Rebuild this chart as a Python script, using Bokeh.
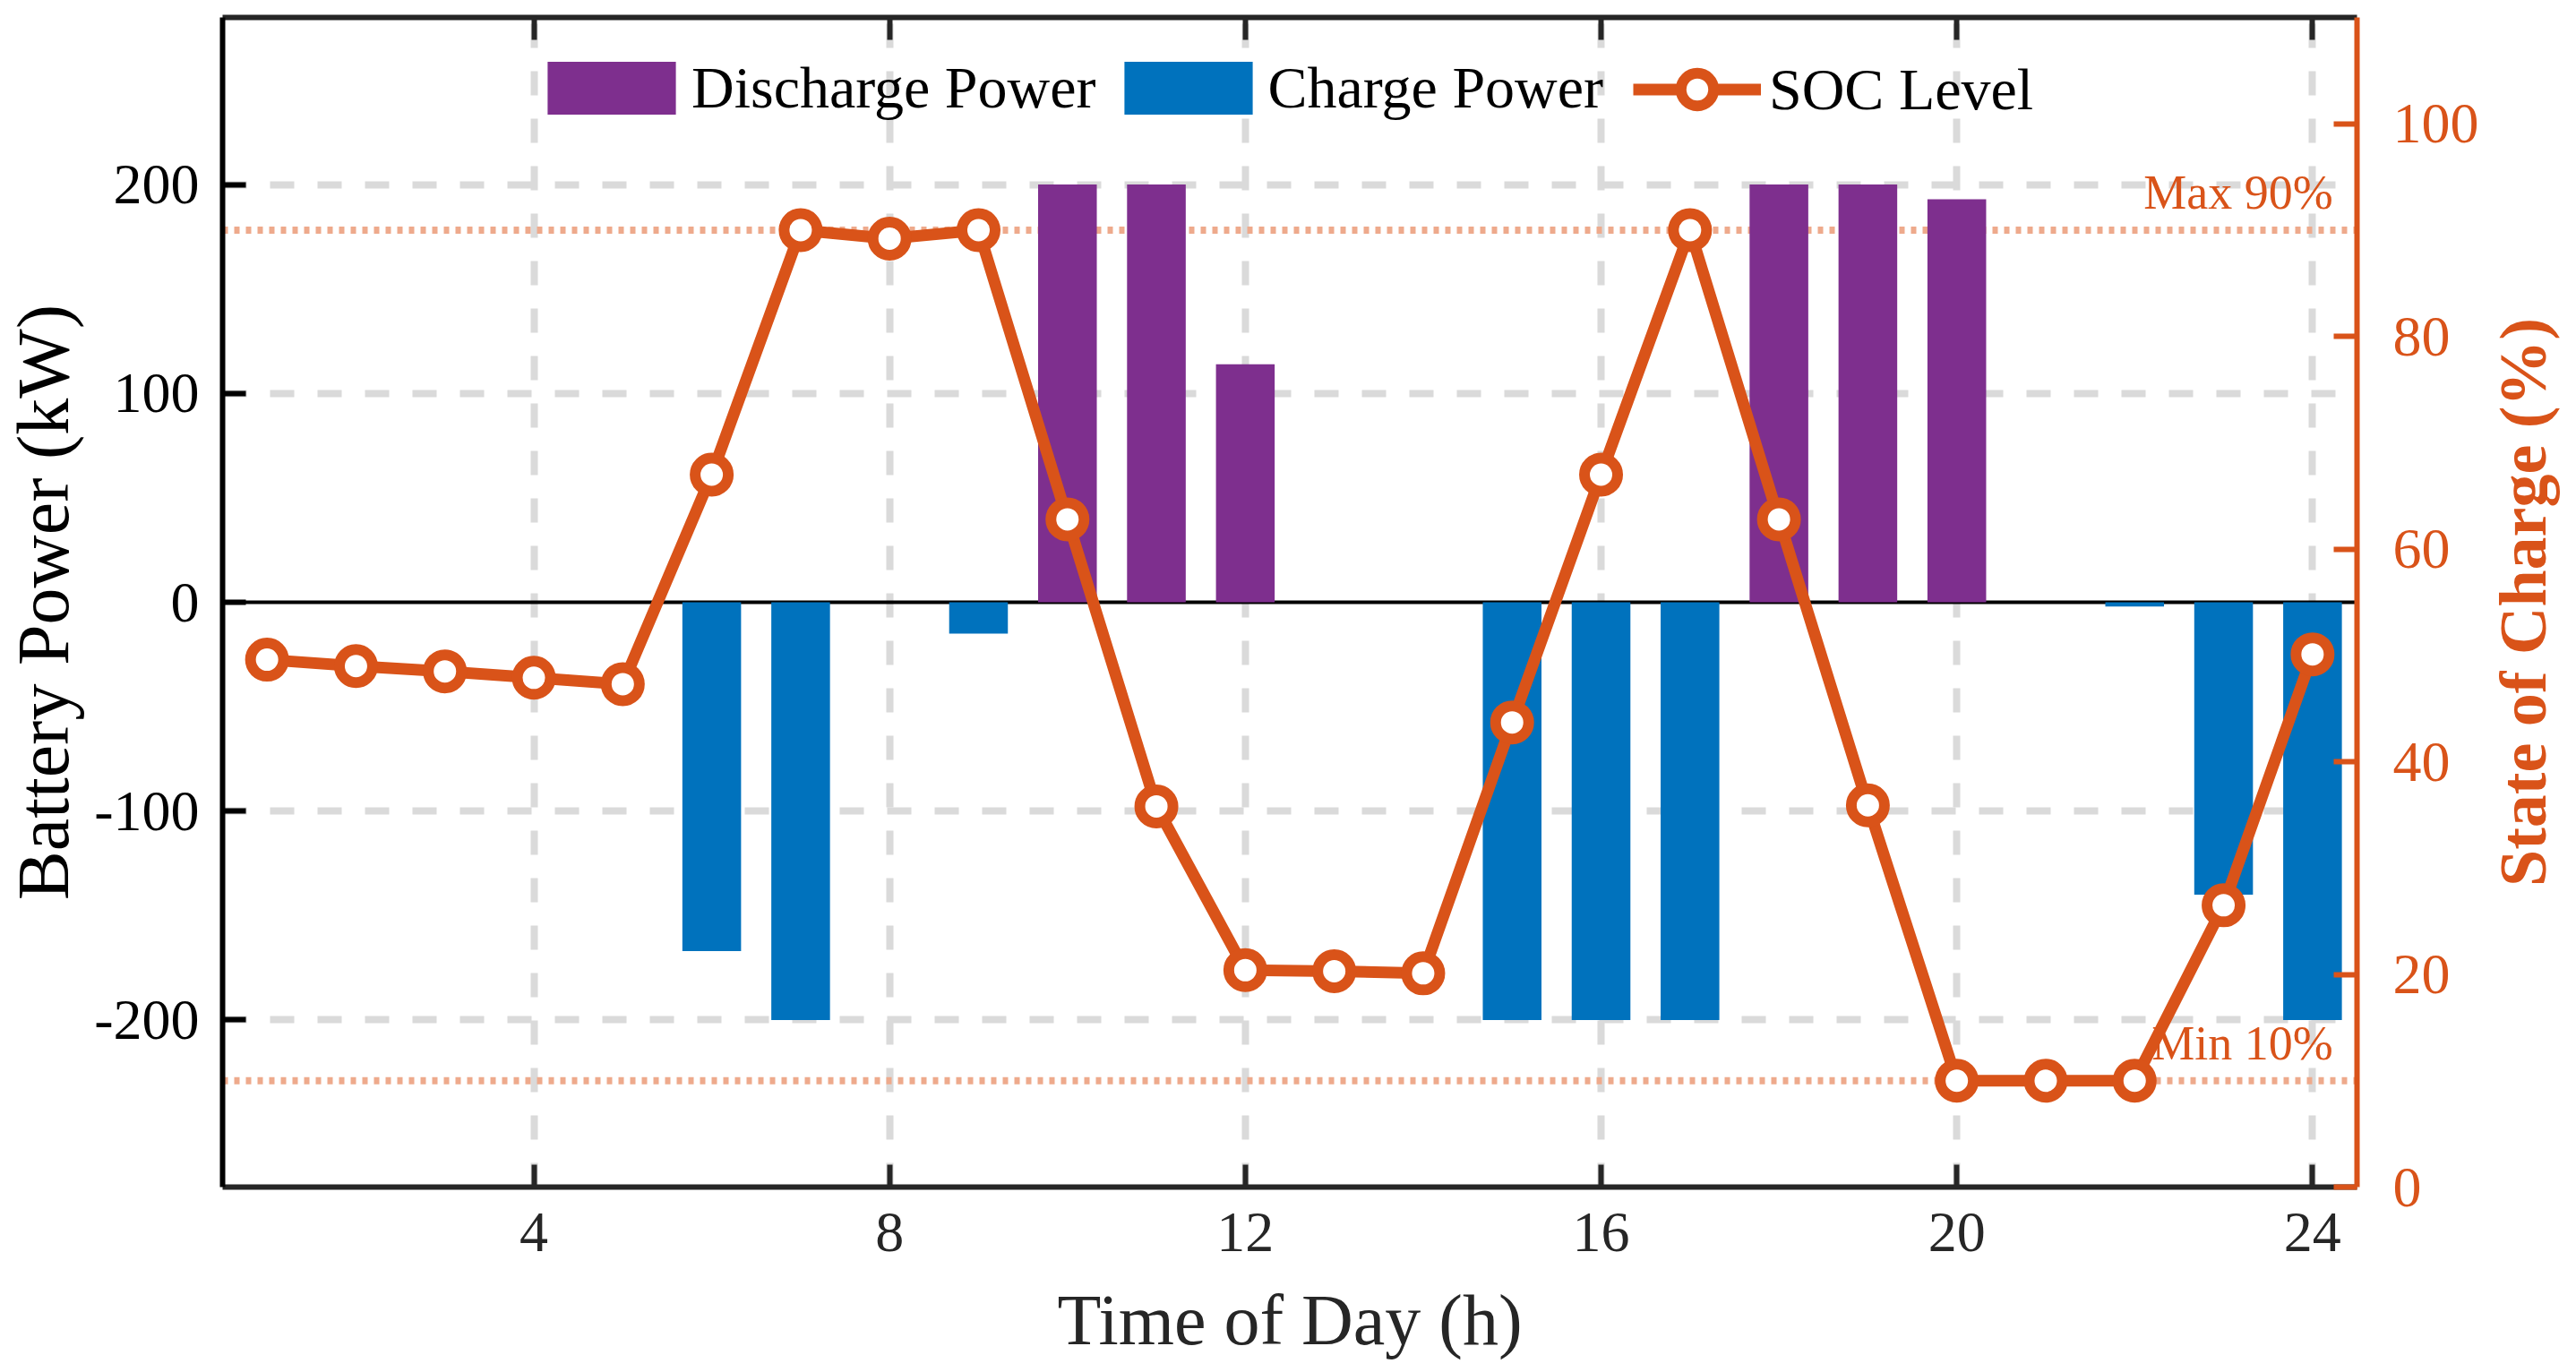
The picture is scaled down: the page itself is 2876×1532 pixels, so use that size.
from bokeh.plotting import figure
from bokeh.layouts import row
from bokeh.models import Range1d, LinearAxis, Span, FixedTicker, Legend, LegendItem
from bokeh.core.properties import value
from bokeh.embed import file_html
from bokeh.resources import INLINE

# ---------------- data ----------------
hours = list(range(1, 25))
discharge_kw = [0, 0, 0, 0, 0, 0, 0, 0, 0, 200, 200, 114, 0, 0, 0, 0, 0, 200, 200, 193, 0, 0, 0, 0]
charge_kw = [0, 0, 0, 0, 0, -167, -200, 0, -15, 0, 0, 0, 0, 0, -200, -200, -200, 0, 0, 0, 0, -2, -140, -200]
soc_pct = [49.6, 49.0, 48.5, 47.9, 47.3, 67.0, 90.0, 89.2, 90.0, 62.8, 35.8, 20.4,
           20.3, 20.1, 43.7, 67.0, 90.0, 62.8, 35.9, 10.0, 10.0, 10.0, 26.5, 50.1]
limit_pct = [90, 10]
limit_labels = ["Max 90%", "Min 10%"]
x_ticks = [4, 8, 12, 16, 20, 24]
power_ticks = [-200, -100, 0, 100, 200]
power_tick_labels = {-200: "-200", -100: "-100", 0: "0", 100: "100", 200: "200"}
soc_ticks = [0, 20, 40, 60, 80, 100]
soc_axis_title = "State of Charge (%)"

FONT = "Liberation Serif"
DARK = "#262626"
ORANGE = "#D95319"
PURPLE = "#7E2F8E"
BLUE = "#0072BD"
LIMIT = "#EEAA8C"

H = 1525
W_TITLE = 90
W_MAIN = 2860 - W_TITLE

p = figure(width=W_MAIN, height=H, output_backend="svg", toolbar_location=None,
           x_range=Range1d(0.5, 24.5), y_range=Range1d(-280, 280),
           min_border_left=243, min_border_right=W_MAIN - 243 - 2388,
           min_border_top=19, min_border_bottom=200)
p.extra_y_ranges = {"soc": Range1d(0, 110)}
p.outline_line_color = None
p.background_fill_color = "white"
p.border_fill_color = "white"

# grid
p.xgrid.ticker = FixedTicker(ticks=x_ticks)
p.ygrid.ticker = FixedTicker(ticks=[-200, -100, 100, 200])
for g in (p.xgrid, p.ygrid):
    g.grid_line_color = "#dadada"
    g.grid_line_width = 8
    g.grid_line_dash = "27 26"

# bottom axis
xa = p.xaxis[0]
xa.ticker = FixedTicker(ticks=x_ticks)
xa.axis_line_color = DARK
xa.axis_line_width = 6
xa.major_tick_in = 25
xa.major_tick_out = 0
xa.major_tick_line_width = 6
xa.major_tick_line_color = DARK
xa.minor_tick_line_color = None
xa.major_label_text_font = FONT
xa.major_label_text_font_size = "64px"
xa.major_label_text_color = DARK
xa.major_label_standoff = 29
xa.axis_label = "Time of Day (h)"
xa.axis_label_text_font = FONT
xa.axis_label_text_font_size = "80px"
xa.axis_label_text_font_style = "normal"
xa.axis_label_text_color = DARK
xa.axis_label_standoff = 30

# left axis
ya = p.yaxis[0]
ya.ticker = FixedTicker(ticks=power_ticks)
ya.major_label_overrides = power_tick_labels
ya.axis_line_color = "black"
ya.axis_line_width = 6
ya.major_tick_in = 26
ya.major_tick_out = 0
ya.major_tick_line_width = 6
ya.major_tick_line_color = "black"
ya.minor_tick_line_color = None
ya.major_label_text_font = FONT
ya.major_label_text_font_size = "64px"
ya.major_label_text_color = "black"
ya.major_label_standoff = 26
ya.axis_label = "Battery Power (kW)"
ya.axis_label_text_font = FONT
ya.axis_label_text_font_size = "82px"
ya.axis_label_text_font_style = "normal"
ya.axis_label_text_color = "black"
ya.axis_label_standoff = 8

# top mirror axis
top = LinearAxis(ticker=FixedTicker(ticks=x_ticks),
                 major_label_overrides={t: "" for t in x_ticks},
                 major_label_text_font_size="0px", major_label_standoff=0,
                 major_tick_in=25, major_tick_out=0, major_tick_line_width=6,
                 major_tick_line_color=DARK, minor_tick_line_color=None,
                 axis_line_color=DARK, axis_line_width=6)
p.add_layout(top, "above")

# right SOC axis
ra = LinearAxis(y_range_name="soc", ticker=FixedTicker(ticks=soc_ticks),
                axis_line_color=ORANGE, axis_line_width=6,
                major_tick_in=26, major_tick_out=0, major_tick_line_width=6,
                major_tick_line_color=ORANGE, minor_tick_line_color=None,
                major_label_text_font=FONT, major_label_text_font_size="64px",
                major_label_text_color=ORANGE, major_label_standoff=40)
p.add_layout(ra, "right")

# zero line
p.add_layout(Span(location=0, dimension="width", line_color="black", line_width=4, level="underlay"))

# SOC limits
for lim in limit_pct:
    p.add_layout(Span(location=lim, dimension="width", y_range_name="soc",
                      line_color=LIMIT, line_width=8, line_dash="6 7", level="underlay"))

p.text(x=[24.23, 24.23], y=[91.0, 11.0], text=limit_labels, y_range_name="soc",
       text_align="right", text_baseline="bottom", text_font=value(FONT),
       text_font_size="54px", text_color=ORANGE)

# bars
rd = p.vbar(x=hours, top=discharge_kw, bottom=0, width=0.66, fill_color=PURPLE, line_color=None)
rc = p.vbar(x=hours, top=charge_kw, bottom=0, width=0.66, fill_color=BLUE, line_color=None)

# SOC
rl = p.line(hours, soc_pct, y_range_name="soc", line_color=ORANGE, line_width=13)
rs = p.scatter(hours, soc_pct, y_range_name="soc", marker="circle", size=37,
               fill_color="white", line_color=ORANGE, line_width=12)

common = dict(orientation="horizontal", label_text_font=FONT, label_text_font_size="66px",
              label_text_color="black", background_fill_alpha=0, border_line_alpha=0,
              margin=0, padding=10)
legend_bars = Legend(items=[LegendItem(label="Discharge Power", renderers=[rd]),
                            LegendItem(label="Charge Power", renderers=[rc])],
                     location=(335, 1179), glyph_width=179, glyph_height=74,
                     label_standoff=0, spacing=13, **common)
legend_soc = Legend(items=[LegendItem(label="SOC Level", renderers=[rl, rs])],
                    location=(1565, 1170), glyph_width=143, glyph_height=91,
                    label_standoff=9, spacing=0, **common)
p.add_layout(legend_bars)
p.add_layout(legend_soc)

# narrow strip whose (tick-less) left axis carries the SOC axis title, read bottom-to-top
t = figure(width=W_TITLE, height=H, output_backend="svg", toolbar_location=None,
           x_range=Range1d(0, 1), y_range=Range1d(0, 110),
           x_axis_location=None, y_axis_location="left",
           min_border_left=87, min_border_right=0, min_border_top=19, min_border_bottom=200)
t.outline_line_color = None
t.xgrid.visible = False
t.ygrid.visible = False
t.background_fill_color = "white"
t.border_fill_color = "white"
ta = t.yaxis[0]
ta.ticker = FixedTicker(ticks=[])
ta.axis_line_color = None
ta.major_tick_line_color = None
ta.minor_tick_line_color = None
ta.major_tick_in = 0
ta.major_tick_out = 0
ta.major_label_standoff = 0
ta.major_label_text_font_size = "0px"
ta.axis_label = soc_axis_title
ta.axis_label_standoff = 0
ta.axis_label_text_font = FONT
ta.axis_label_text_font_size = "74px"
ta.axis_label_text_font_style = "bold"
ta.axis_label_text_color = ORANGE

layout = row(p, t, spacing=0)
open("out.html", "w").write(file_html(layout, INLINE))
